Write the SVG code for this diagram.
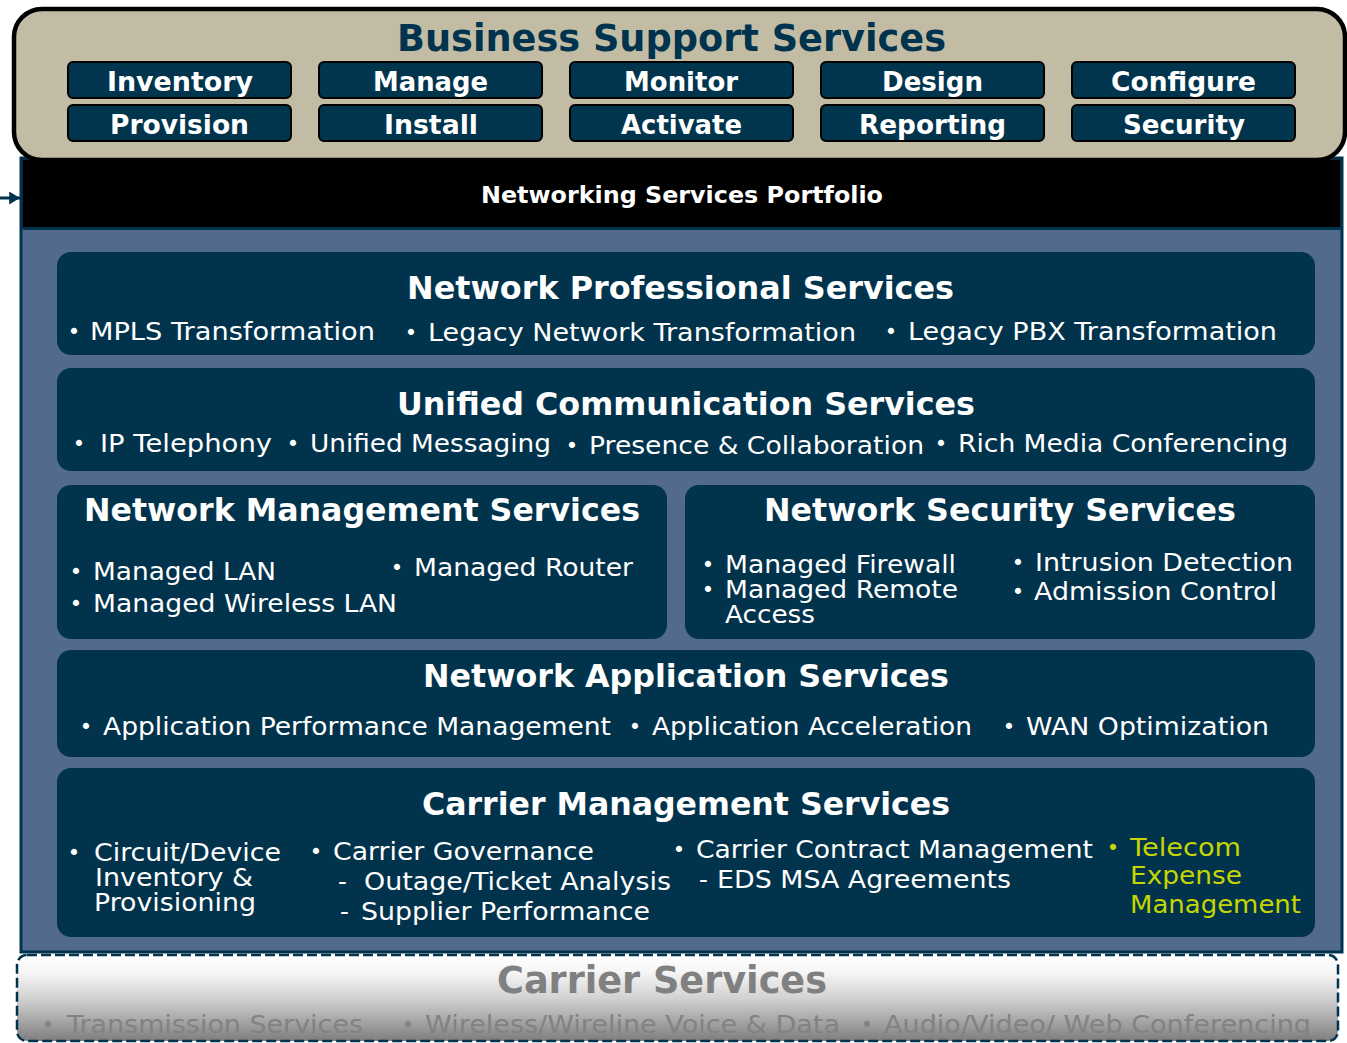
<svg xmlns="http://www.w3.org/2000/svg" width="1347" height="1043" viewBox="0 0 1347 1043">
  <style>
    text { font-family: "DejaVu Sans", Verdana, sans-serif; }
    .btn { fill: #01344d; stroke: #000; stroke-width: 2; }
    .btxt { font-weight: bold; font-size: 26px; fill: #fff; }
    .box { fill: #01334c; }
    .ttl { font-weight: bold; font-size: 31.5px; fill: #fff; }
    .it { font-size: 24.5px; fill: #fff; }
    .b { font-size: 21px; fill: #fff; text-anchor: middle; }
    .y { fill: #c5d600; }
    .cs { font-size: 24.5px; fill: #828282; }
    .csb { font-size: 21px; fill: #828282; text-anchor: middle; }
  </style>
  <defs>
    <linearGradient id="carrierFade" x1="0" y1="0" x2="0" y2="1">
      <stop offset="0" stop-color="#ffffff"/>
      <stop offset="0.2" stop-color="#f6f6f6"/>
      <stop offset="0.5" stop-color="#d2d2d2"/>
      <stop offset="0.82" stop-color="#9d9d9d"/>
      <stop offset="1" stop-color="#7d7d7d"/>
    </linearGradient>
    <clipPath id="carrierClip">
      <rect x="17" y="955" width="1321" height="86" rx="10"/>
    </clipPath>
    <marker id="arrowHead" viewBox="0 0 10 12" refX="10" refY="6" markerWidth="11" markerHeight="13" markerUnits="userSpaceOnUse" orient="auto">
      <path d="M0,0 L10,6 L0,12 Z" fill="#00334d"/>
    </marker>
  </defs>

  <!-- Networking services portfolio panel -->
  <g id="portfolio">
    <rect x="21" y="158" width="1321" height="794" fill="#536a8f" stroke="#00334d" stroke-width="3"/>
    <rect x="22.5" y="159.5" width="1318" height="68" fill="#000"/>
    <line x1="22.5" y1="228.5" x2="1340.5" y2="228.5" stroke="#00334d" stroke-width="3"/>
    <text x="481" y="203" textLength="402" lengthAdjust="spacingAndGlyphs" style="font-weight:bold;font-size:23px;fill:#fff">Networking Services Portfolio</text>
  </g>

  <!-- Business support services header -->
  <g id="business-support">
    <rect x="14" y="9" width="1331" height="151" rx="28" fill="#c3bca4" stroke="#000" stroke-width="4.5"/>
    <text x="397" y="51" textLength="549" lengthAdjust="spacingAndGlyphs" style="font-weight:bold;font-size:36.5px;fill:#00334d">Business Support Services</text>
    <rect class="btn" x="68" y="62" width="223" height="36" rx="5"/>
    <rect class="btn" x="319" y="62" width="223" height="36" rx="5"/>
    <rect class="btn" x="570" y="62" width="223" height="36" rx="5"/>
    <rect class="btn" x="821" y="62" width="223" height="36" rx="5"/>
    <rect class="btn" x="1072" y="62" width="223" height="36" rx="5"/>
    <rect class="btn" x="68" y="105" width="223" height="36" rx="5"/>
    <rect class="btn" x="319" y="105" width="223" height="36" rx="5"/>
    <rect class="btn" x="570" y="105" width="223" height="36" rx="5"/>
    <rect class="btn" x="821" y="105" width="223" height="36" rx="5"/>
    <rect class="btn" x="1072" y="105" width="223" height="36" rx="5"/>
    <text class="btxt" x="107" y="91" textLength="146" lengthAdjust="spacingAndGlyphs">Inventory</text>
    <text class="btxt" x="373" y="91" textLength="115" lengthAdjust="spacingAndGlyphs">Manage</text>
    <text class="btxt" x="624" y="91" textLength="114" lengthAdjust="spacingAndGlyphs">Monitor</text>
    <text class="btxt" x="882" y="91" textLength="101" lengthAdjust="spacingAndGlyphs">Design</text>
    <text class="btxt" x="1111" y="91" textLength="145" lengthAdjust="spacingAndGlyphs">Configure</text>
    <text class="btxt" x="110" y="134" textLength="139" lengthAdjust="spacingAndGlyphs">Provision</text>
    <text class="btxt" x="384" y="134" textLength="94" lengthAdjust="spacingAndGlyphs">Install</text>
    <text class="btxt" x="621" y="134" textLength="121" lengthAdjust="spacingAndGlyphs">Activate</text>
    <text class="btxt" x="859" y="134" textLength="147" lengthAdjust="spacingAndGlyphs">Reporting</text>
    <text class="btxt" x="1123" y="134" textLength="122" lengthAdjust="spacingAndGlyphs">Security</text>
  </g>

  <!-- Network professional services -->
  <g id="network-professional">
    <rect class="box" x="57" y="252" width="1258" height="103" rx="14"/>
    <text class="ttl" x="407" y="299" textLength="547" lengthAdjust="spacingAndGlyphs">Network Professional Services</text>
    <text class="b" x="74" y="339">•</text>
    <text class="it" x="90" y="340" textLength="285" lengthAdjust="spacingAndGlyphs">MPLS Transformation</text>
    <text class="b" x="411" y="340">•</text>
    <text class="it" x="428" y="341" textLength="428" lengthAdjust="spacingAndGlyphs">Legacy Network Transformation</text>
    <text class="b" x="891" y="339">•</text>
    <text class="it" x="908" y="340" textLength="369" lengthAdjust="spacingAndGlyphs">Legacy PBX Transformation</text>
  </g>

  <!-- Unified communication services -->
  <g id="unified-communication">
    <rect class="box" x="57" y="368" width="1258" height="103" rx="14"/>
    <text class="ttl" x="397" y="415" textLength="578" lengthAdjust="spacingAndGlyphs">Unified Communication Services</text>
    <text class="b" x="79" y="451">•</text>
    <text class="it" x="100" y="452" textLength="172" lengthAdjust="spacingAndGlyphs">IP Telephony</text>
    <text class="b" x="293" y="451">•</text>
    <text class="it" x="310" y="452" textLength="241" lengthAdjust="spacingAndGlyphs">Unified Messaging</text>
    <text class="b" x="572" y="453">•</text>
    <text class="it" x="589" y="454" textLength="335" lengthAdjust="spacingAndGlyphs">Presence &amp; Collaboration</text>
    <text class="b" x="941" y="451">•</text>
    <text class="it" x="958" y="452" textLength="330" lengthAdjust="spacingAndGlyphs">Rich Media Conferencing</text>
  </g>

  <!-- Network management services -->
  <g id="network-management">
    <rect class="box" x="57" y="485" width="610" height="154" rx="14"/>
    <text class="ttl" x="84" y="521" textLength="556" lengthAdjust="spacingAndGlyphs">Network Management Services</text>
    <text class="b" x="76" y="579">•</text>
    <text class="it" x="93" y="580" textLength="183" lengthAdjust="spacingAndGlyphs">Managed LAN</text>
    <text class="b" x="397" y="575">•</text>
    <text class="it" x="414" y="576" textLength="219" lengthAdjust="spacingAndGlyphs">Managed Router</text>
    <text class="b" x="76" y="611">•</text>
    <text class="it" x="93" y="612" textLength="304" lengthAdjust="spacingAndGlyphs">Managed Wireless LAN</text>
  </g>

  <!-- Network security services -->
  <g id="network-security">
    <rect class="box" x="685" y="485" width="630" height="154" rx="14"/>
    <text class="ttl" x="764" y="521" textLength="472" lengthAdjust="spacingAndGlyphs">Network Security Services</text>
    <text class="b" x="708" y="572">•</text>
    <text class="it" x="725" y="573" textLength="231" lengthAdjust="spacingAndGlyphs">Managed Firewall</text>
    <text class="b" x="708" y="597">•</text>
    <text class="it" x="725" y="598" textLength="233" lengthAdjust="spacingAndGlyphs">Managed Remote</text>
    <text class="it" x="725" y="623" textLength="90" lengthAdjust="spacingAndGlyphs">Access</text>
    <text class="b" x="1018" y="570">•</text>
    <text class="it" x="1035" y="571" textLength="258" lengthAdjust="spacingAndGlyphs">Intrusion Detection</text>
    <text class="b" x="1018" y="599">•</text>
    <text class="it" x="1034" y="600" textLength="243" lengthAdjust="spacingAndGlyphs">Admission Control</text>
  </g>

  <!-- Network application services -->
  <g id="network-application">
    <rect class="box" x="57" y="650" width="1258" height="107" rx="14"/>
    <text class="ttl" x="423" y="687" textLength="526" lengthAdjust="spacingAndGlyphs">Network Application Services</text>
    <text class="b" x="86" y="734">•</text>
    <text class="it" x="103" y="735" textLength="508" lengthAdjust="spacingAndGlyphs">Application Performance Management</text>
    <text class="b" x="635" y="734">•</text>
    <text class="it" x="652" y="735" textLength="320" lengthAdjust="spacingAndGlyphs">Application Acceleration</text>
    <text class="b" x="1009" y="734">•</text>
    <text class="it" x="1026" y="735" textLength="243" lengthAdjust="spacingAndGlyphs">WAN Optimization</text>
  </g>

  <!-- Carrier management services -->
  <g id="carrier-management">
    <rect class="box" x="57" y="768" width="1258" height="169" rx="14"/>
    <text class="ttl" x="422" y="815" textLength="528" lengthAdjust="spacingAndGlyphs">Carrier Management Services</text>
    <text class="b" x="74" y="860">•</text>
    <text class="it" x="94" y="861" textLength="187" lengthAdjust="spacingAndGlyphs">Circuit/Device</text>
    <text class="it" x="95" y="886" textLength="158" lengthAdjust="spacingAndGlyphs">Inventory &amp;</text>
    <text class="it" x="94" y="911" textLength="162" lengthAdjust="spacingAndGlyphs">Provisioning</text>
    <text class="b" x="316" y="859">•</text>
    <text class="it" x="333" y="860" textLength="261" lengthAdjust="spacingAndGlyphs">Carrier Governance</text>
    <text class="it" x="338" y="890">-</text>
    <text class="it" x="364" y="890" textLength="307" lengthAdjust="spacingAndGlyphs">Outage/Ticket Analysis</text>
    <text class="it" x="340" y="920">-</text>
    <text class="it" x="361" y="920" textLength="289" lengthAdjust="spacingAndGlyphs">Supplier Performance</text>
    <text class="b" x="679" y="857">•</text>
    <text class="it" x="696" y="858" textLength="397" lengthAdjust="spacingAndGlyphs">Carrier Contract Management</text>
    <text class="it" x="699" y="888">-</text>
    <text class="it" x="717" y="888" textLength="294" lengthAdjust="spacingAndGlyphs">EDS MSA Agreements</text>
    <text class="b y" x="1113" y="855">•</text>
    <text class="it y" x="1130" y="856" textLength="111" lengthAdjust="spacingAndGlyphs">Telecom</text>
    <text class="it y" x="1130" y="884" textLength="112" lengthAdjust="spacingAndGlyphs">Expense</text>
    <text class="it y" x="1130" y="913" textLength="171" lengthAdjust="spacingAndGlyphs">Management</text>
  </g>

  <!-- Carrier services (dashed, faded) -->
  <g id="carrier-services">
    <rect x="17" y="955" width="1321" height="86" rx="10" fill="url(#carrierFade)" stroke="#00334d" stroke-width="2.5" stroke-dasharray="10 4"/>
    <g clip-path="url(#carrierClip)">
      <text x="497" y="993" textLength="330" lengthAdjust="spacingAndGlyphs" style="font-weight:bold;font-size:36.5px;fill:#808080">Carrier Services</text>
      <text class="csb" x="48" y="1032">•</text>
      <text class="cs" x="67" y="1033" textLength="296" lengthAdjust="spacingAndGlyphs">Transmission Services</text>
      <text class="csb" x="408" y="1032">•</text>
      <text class="cs" x="425" y="1033" textLength="415" lengthAdjust="spacingAndGlyphs">Wireless/Wireline Voice &amp; Data</text>
      <text class="csb" x="867" y="1032">•</text>
      <text class="cs" x="884" y="1033" textLength="427" lengthAdjust="spacingAndGlyphs">Audio/Video/ Web Conferencing</text>
    </g>
  </g>

  <!-- Connectors -->
  <g id="connectors">
    <path d="M0,198 L20,198" stroke="#00334d" stroke-width="3" fill="none" marker-end="url(#arrowHead)"/>
  </g>
</svg>
